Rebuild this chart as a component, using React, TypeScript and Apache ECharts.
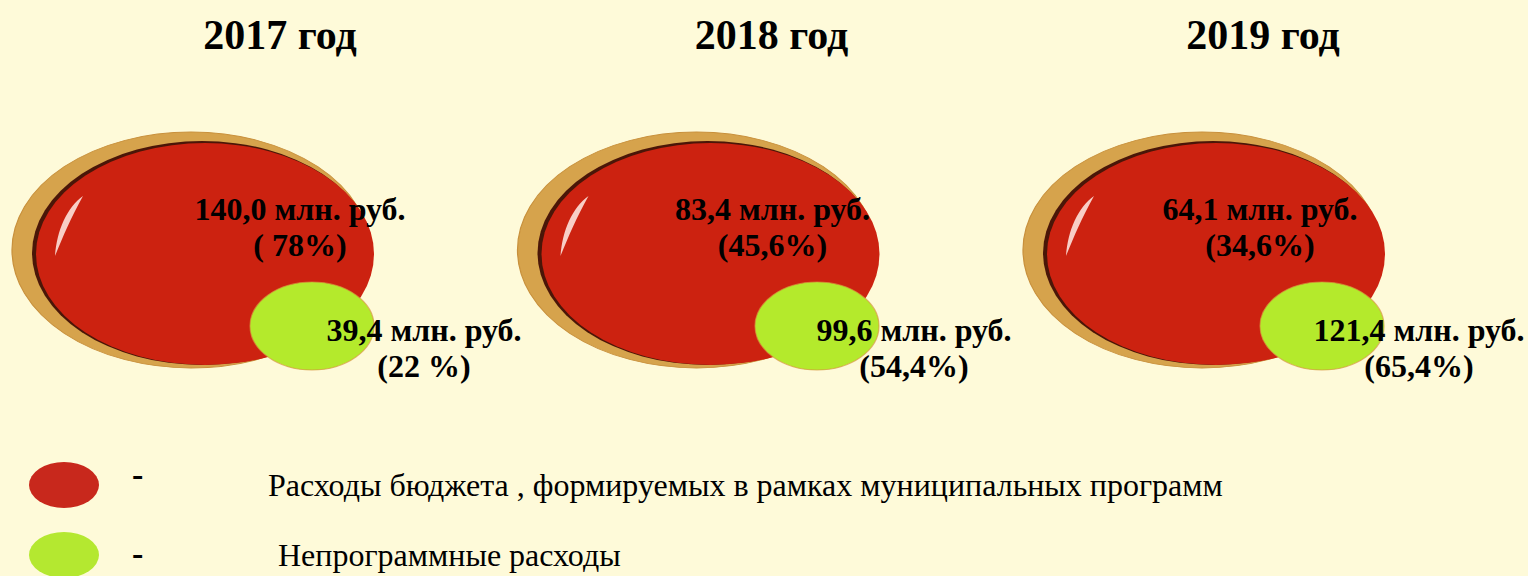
import React, { useEffect, useRef } from 'react';
import * as echarts from 'echarts';

// ---- data ----
const years = ['2017', '2018', '2019'];
const yearTitles = ['2017 год', '2018 год', '2019 год'];
const programName = 'Расходы бюджета , формируемых в рамках муниципальных программ';
const nonProgramName = 'Непрограммные расходы';
const programAmounts = [140.0, 83.4, 64.1];
const programShares = ['( 78%)', '(45,6%)', '(34,6%)'];
const nonProgramAmounts = [39.4, 99.6, 121.4];
const nonProgramShares = ['(22 %)', '(54,4%)', '(65,4%)'];

// ---- layout constants ----
const programLabelShift = [[95, -27], [62, -27], [44, -27]];
const nonProgramLabelShift = [[112, 22], [97, 22], [97, 22]];

const ELLIPSE = 'path://M0,50 A50,50 0 1,1 100,50 A50,50 0 1,1 0,50 Z';
const LEGEND_ELLIPSE = 'path://M0,23 A35,23 0 1,1 70,23 A35,23 0 1,1 0,23 Z';
const GLARE = 'path://M28,0 C12,12 2,35 0,62 C8,42 16,22 28,0 Z';
const SERIF = '"Liberation Serif", "Times New Roman", serif';

const fmtAmount = (v: number) => v.toFixed(1).replace('.', ',') + ' млн. руб.';

const labelRich = {
  v: {
    fontSize: 32, fontWeight: 'bold', fontFamily: SERIF, color: '#000', lineHeight: 36,
    textBorderWidth: 0, textShadowBlur: 0,
  },
};

export default function App() {
  const ref = useRef<HTMLDivElement>(null);
  useEffect(() => {
    if (!ref.current) return;
    const chart = echarts.init(ref.current, undefined, { renderer: 'svg' });
    const redData = years.map((y, i) => [y, 0, programAmounts[i]]);
    const greenData = years.map((y, i) => ({
      value: [y, 0, nonProgramAmounts[i]],
      label: { offset: nonProgramLabelShift[i] },
    }));
    const redLabeled = years.map((y, i) => ({
      value: [y, 0, programAmounts[i]],
      label: { offset: programLabelShift[i] },
    }));
    const deco = {
      type: 'scatter', xAxisIndex: 0, yAxisIndex: 0, silent: true, clip: false,
      symbol: ELLIPSE, emphasis: { disabled: true }, tooltip: { show: false },
    };
    const legendText = (pad: number) => ({
      fontFamily: SERIF, fontSize: 32, color: '#000',
      rich: { t: { fontFamily: SERIF, fontSize: 32, color: '#000', padding: [0, 0, 0, pad] } },
    });
    chart.setOption({
      animation: false,
      backgroundColor: '#FEFAD9',
      grid: [
        { left: 205, right: 312, top: 204, height: 100 },
        { left: 312, right: 206, top: 276, height: 100 },
        { left: 280, right: 265, top: 62, height: 1 },
      ],
      xAxis: [
        { gridIndex: 0, type: 'category', data: years, boundaryGap: false, show: false },
        { gridIndex: 1, type: 'category', data: years, boundaryGap: false, show: false },
        {
          gridIndex: 2, type: 'category', data: yearTitles, boundaryGap: false, position: 'top',
          axisLine: { show: false }, axisTick: { show: false }, splitLine: { show: false },
          axisLabel: { interval: 0, margin: 6, fontSize: 42, fontWeight: 'bold', fontFamily: SERIF, color: '#000' },
        },
      ],
      yAxis: [
        { gridIndex: 0, type: 'value', min: -1, max: 1, show: false },
        { gridIndex: 1, type: 'value', min: -1, max: 1, show: false },
        { gridIndex: 2, type: 'value', min: -1, max: 1, show: false },
      ],
      legend: [
        {
          orient: 'vertical', left: 29, top: 462, padding: 0, itemWidth: 70, itemHeight: 46,
          selectedMode: false,
          data: [{ name: programName, icon: LEGEND_ELLIPSE, itemStyle: { color: '#C8281C', opacity: 1, borderWidth: 0 } }],
          formatter: (name: string) => `{t|${name}}`,
          textStyle: legendText(164),
        },
        {
          orient: 'vertical', left: 29, top: 532, padding: 0, itemWidth: 70, itemHeight: 46,
          selectedMode: false,
          data: [{ name: nonProgramName, icon: LEGEND_ELLIPSE, itemStyle: { color: '#B4E830', opacity: 1, borderWidth: 0 } }],
          formatter: (name: string) => `{t|${name}}`,
          textStyle: legendText(174),
        },
      ],
      graphic: [
        { type: 'text', x: 132, y: 474, style: { text: '-', font: `bold 34px ${SERIF}`, fill: '#000', verticalAlign: 'middle' } },
        { type: 'text', x: 132, y: 553, style: { text: '-', font: `bold 34px ${SERIF}`, fill: '#000', verticalAlign: 'middle' } },
      ],
      series: [
        { ...deco, name: 'rim', data: redData, symbolSize: [358, 236], symbolOffset: [-14, -4],
          itemStyle: { color: '#D6A34C', borderColor: '#C8903C', borderWidth: 1, opacity: 1 } },
        { ...deco, name: 'edge', data: redData, symbolSize: [340, 224], symbolOffset: [-3, -1],
          itemStyle: { color: '#4A1608', opacity: 1 } },
        {
          type: 'scatter', name: programName, xAxisIndex: 0, yAxisIndex: 0, clip: false, silent: true,
          emphasis: { disabled: true },
          data: redLabeled, symbol: ELLIPSE, symbolSize: [338, 222],
          itemStyle: { color: '#CC2210', opacity: 1 },
          label: {
            show: true, position: 'inside', color: '#000', textBorderWidth: 0,
            formatter: (p: any) => `{v|${fmtAmount(p.value[2])}}\n{v|${programShares[p.dataIndex]}}`,
            rich: labelRich,
          },
        },
        { ...deco, name: 'glare', data: redData, symbol: GLARE, symbolSize: [28, 60], symbolOffset: [-136, -28],
          itemStyle: { color: 'rgba(255,236,230,0.85)', opacity: 1 } },
        {
          type: 'scatter', name: nonProgramName, xAxisIndex: 1, yAxisIndex: 1, clip: false, silent: true,
          emphasis: { disabled: true },
          data: greenData, symbol: ELLIPSE, symbolSize: [124, 88],
          itemStyle: { color: '#B4EA2C', borderColor: 'rgba(214,150,60,0.7)', borderWidth: 1, opacity: 1 },
          label: {
            show: true, position: 'inside', color: '#000', textBorderWidth: 0,
            formatter: (p: any) => `{v|${fmtAmount(p.value[2])}}\n{v|${nonProgramShares[p.dataIndex]}}`,
            rich: labelRich,
          },
        },
      ],
    });
    return () => chart.dispose();
  }, []);
  return <div ref={ref} style={{ position: 'fixed', left: 0, top: 0, width: 1528, height: 576 }} />;
}
